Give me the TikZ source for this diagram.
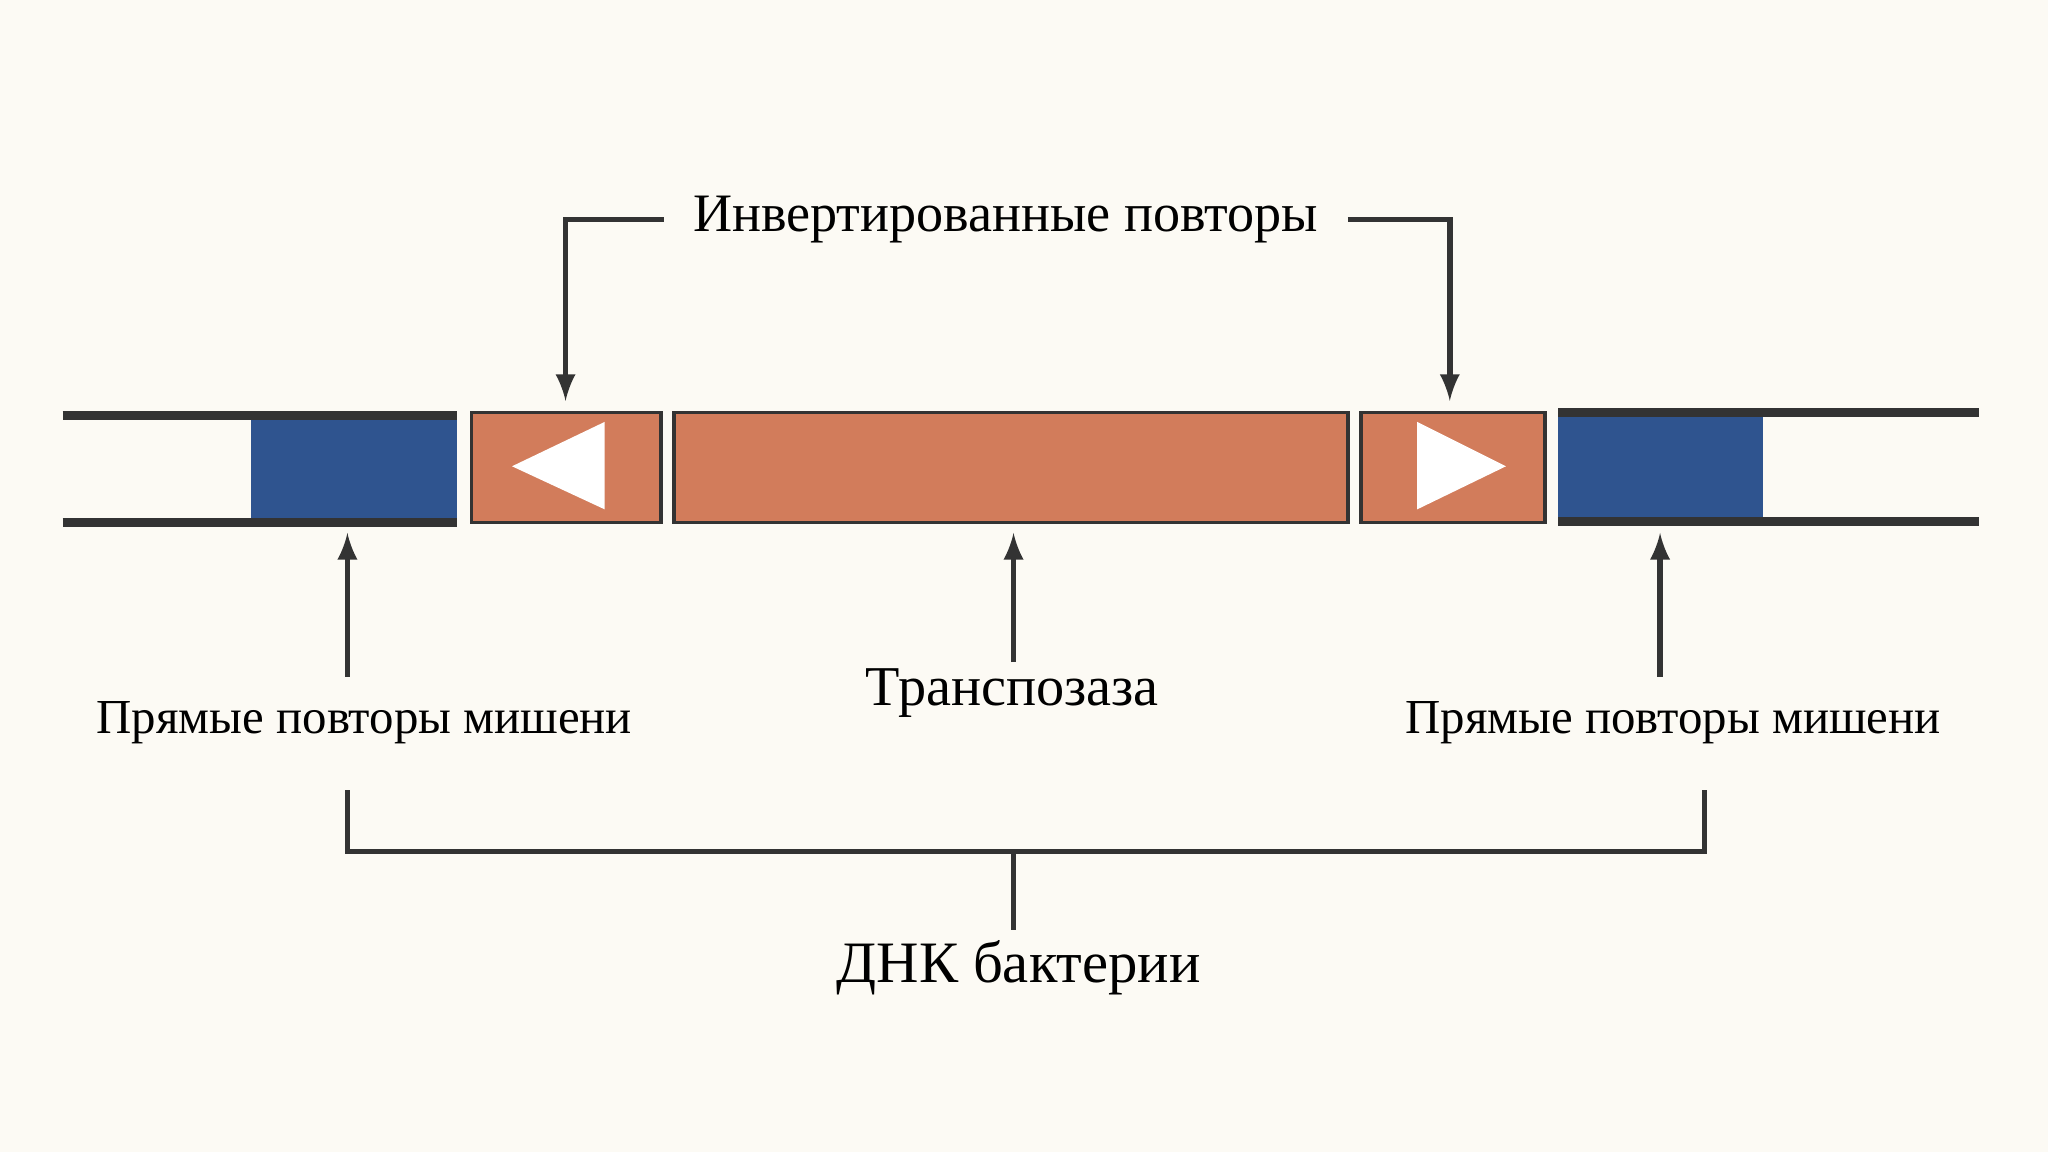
\documentclass[tikz,border=0pt]{standalone}
\usepackage{fontspec}
\setmainfont{Liberation Serif}
\usetikzlibrary{positioning}
\tikzset{>=latex}
\definecolor{bg}{HTML}{FCFAF4}
\definecolor{dnablue}{HTML}{2F548F}
\definecolor{gene}{HTML}{D27C5B}
\definecolor{ink}{HTML}{333333}
\tikzset{
	blk/.style={draw=ink, line width=1pt, inner sep=0pt},
	strand/.style={draw=ink, line width=2.6pt},
	lead/.style={draw=ink, line width=1.6pt},
	lbl/.style={font=\fontsize{13.9}{16}\selectfont, text=black, inner sep=2pt}
}
\begin{document}
\begin{tikzpicture}[x=0.01306cm, y=-0.01306cm]
		% Background
		\fill[bg] (0,0) rectangle (1568,882);
		\useasboundingbox (0,0) rectangle (1568,882);

		% Blocks
		\fill[dnablue] (192,318) rectangle (350,400);
		\fill[dnablue] (1193,316) rectangle (1350,399);
		\filldraw[blk, fill=gene] (361,316) rectangle (506,400);
		\filldraw[blk, fill=gene] (516,316) rectangle (1032,400);
		\filldraw[blk, fill=gene] (1042,316) rectangle (1183,400);
		\fill[white] (392,357) -- (463,323) -- (463,390) -- cycle;
		\fill[white] (1153,357) -- (1085,323) -- (1085,390) -- cycle;

		% DNA strands
		\draw[strand] (48,318) -- (350,318);
		\draw[strand] (48,400) -- (350,400);
		\draw[strand] (1193,316) -- (1515,316);
		\draw[strand] (1193,399) -- (1515,399);

		% Anchors
		\coordinate (irL) at (433,307);
		\coordinate (irR) at (1110,307);
		\coordinate (drL) at (266,408);
		\coordinate (tp) at (776,408);
		\coordinate (drR) at (1271,408);

		% Labels
		\node[lbl, font=\fontsize{15.4}{18}\selectfont] (inv) at (770,168) {Инвертированные повторы};
		\node[lbl] (dirL) at (279,553) {Прямые повторы мишени};
		\node[lbl] (dirR) at (1281,553) {Прямые повторы мишени};
		\node[lbl, font=\fontsize{16}{19}\selectfont] (trans) at (775,531) {Транспозаза};
		\node[lbl, font=\fontsize{16.7}{20}\selectfont] (dna) at (780,741) {ДНК бактерии};

		% Leaders
		\draw[lead, ->] (508,168) -| (irL);
		\draw[lead, ->] (1032,168) -| (irR);
		\draw[lead, ->] (266,518) -- (drL);
		\draw[lead, ->] (776,507) -- (tp);
		\draw[lead, ->] (1271,518) -- (drR);

		% Bracket
		\draw[lead] (266,605) -- (266,652) -- (1305,652) -- (1305,605);
		\draw[lead] (776,652) -- (776,712);
	\end{tikzpicture}
\end{document}
